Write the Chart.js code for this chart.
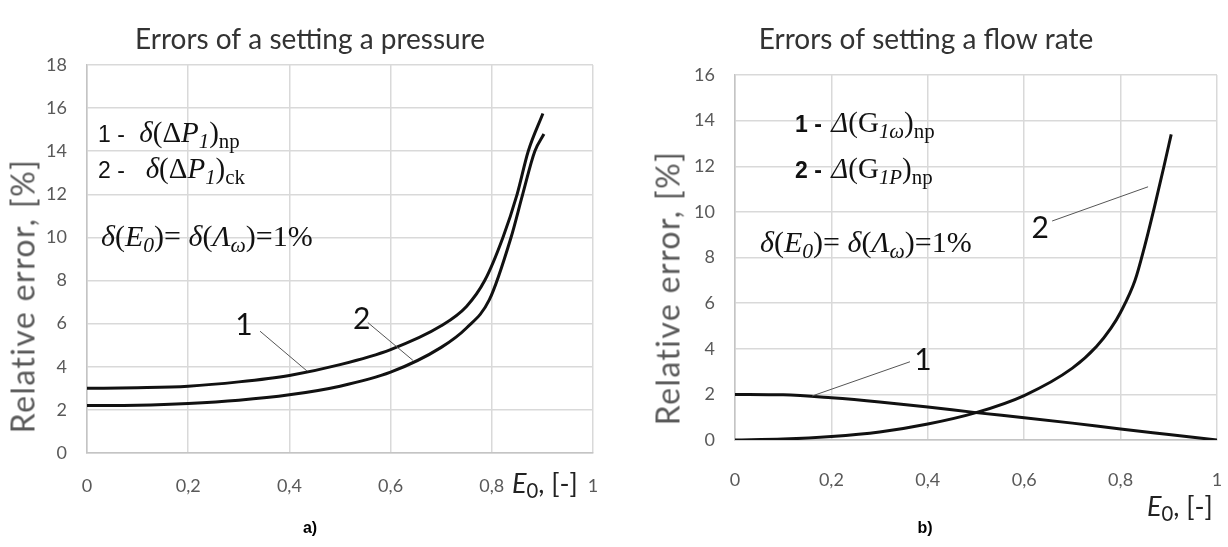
<!DOCTYPE html>
<html>
<head>
<meta charset="utf-8">
<script src="https://cdn.jsdelivr.net/npm/chart.js@4.4.1/dist/chart.umd.min.js"></script>
<style>
  body { margin: 0; width: 1228px; height: 547px; background: #fff; position: relative; overflow: hidden; font-family: Lato, sans-serif; }
  .box { position: absolute; top: 0; width: 614px; height: 547px; }
  .note { position: absolute; font-family: "Liberation Serif", serif; font-size: 29px; line-height: 29px; color: #111; white-space: nowrap; }
  .note.big { font-size: 30px; line-height: 30px; }
  .note sub { font-size: 0.72em; vertical-align: -0.28em; line-height: 0; }
  .num { font-family: "Liberation Sans", sans-serif; font-size: 23px; line-height: 0; padding-right: 8px; }
  .ytitle { position: absolute; transform: translate(-50%, -50%) rotate(-90deg); font-size: 32px; letter-spacing: 1.4px; color: #595959; white-space: nowrap; }
  .xlab { position: absolute; font-size: 27px; line-height: 27px; color: #222; white-space: nowrap; }
  .xlab sub { font-size: 0.75em; vertical-align: -0.25em; line-height: 0; }
  .cap { position: absolute; font: bold 16px "Liberation Sans", sans-serif; transform: translateX(-50%); }
</style>
</head>
<body>
<div class="box" style="left:0"><canvas id="pressure"></canvas></div>
<div class="box" style="left:614px"><canvas id="flow"></canvas></div>

<div class="ytitle" style="left:22px;top:296px">Relative error, [%]</div>
<div class="ytitle" style="left:667px;top:288px">Relative error, [%]</div>

<div class="note" style="left:98px;top:118px"><span class="num">1 - </span><i>δ</i>(Δ<i>P<sub>1</sub></i>)<sub>np</sub></div>
<div class="note" style="left:98px;top:154px"><span class="num">2 -&nbsp; </span><i>δ</i>(Δ<i>P<sub>1</sub></i>)<sub>ck</sub></div>
<div class="note big" style="left:101px;top:221px"><i>δ</i>(<i>E<sub>0</sub></i>)= <i>δ</i>(<i>Λ<sub>ω</sub></i>)=1%</div>

<div class="note" style="left:795px;top:108px"><span class="num" style="padding-right:3px"><b>1 - </b></span><i>Δ</i>(G<sub><i>1ω</i></sub>)<sub>np</sub></div>
<div class="note" style="left:795px;top:154px"><span class="num" style="padding-right:3px"><b>2 - </b></span><i>Δ</i>(G<sub><i>1P</i></sub>)<sub>np</sub></div>
<div class="note big" style="left:760px;top:227px"><i>δ</i>(<i>E<sub>0</sub></i>)= <i>δ</i>(<i>Λ<sub>ω</sub></i>)=1%</div>

<div class="xlab" style="left:512px;top:469px"><i>E</i><sub>0</sub>, [-]</div>
<div class="xlab" style="left:1147px;top:492px"><i>E</i><sub>0</sub>, [-]</div>

<div class="cap" style="left:310px;top:519px">a)</div>
<div class="cap" style="left:925px;top:519px">b)</div>

<script>
// a) errors of setting a pressure
const pressE1 = [0, 0.1, 0.2, 0.3, 0.4, 0.5, 0.6, 0.7, 0.75, 0.786, 0.822, 0.85, 0.872, 0.901];
const pressErr1 = [3.0, 3.03, 3.1, 3.3, 3.6, 4.1, 4.8, 5.9, 6.8, 8.0, 10.0, 12.0, 14.0, 15.75];
const pressE2 = [0, 0.1, 0.2, 0.3, 0.4, 0.5, 0.6, 0.7, 0.75, 0.795, 0.838, 0.861, 0.885, 0.903];
const pressErr2 = [2.2, 2.22, 2.3, 2.45, 2.7, 3.1, 3.75, 4.9, 5.8, 7.1, 10.0, 12.0, 14.0, 14.8];

// b) errors of setting a flow rate
const flowE1 = [0, 0.1, 0.2, 0.3, 0.4, 0.5, 0.6, 0.7, 0.8, 0.9, 1.0];
const flowErr1 = [2.0, 1.98, 1.85, 1.67, 1.45, 1.2, 0.98, 0.74, 0.48, 0.24, 0.0];
const flowE2 = [0, 0.1, 0.2, 0.3, 0.4, 0.5, 0.6, 0.7, 0.75, 0.78, 0.8, 0.83, 0.85, 0.87, 0.89, 0.905];
const flowErr2 = [0, 0.04, 0.15, 0.35, 0.7, 1.2, 1.95, 3.15, 4.1, 4.9, 5.6, 7.0, 8.5, 10.2, 12.0, 13.4];

// curve labels with leader lines, in data units
const pressLabels = [
  { text: '1', at: [0.31, 5.9], from: [0.342, 5.65], to: [0.435, 3.8] },
  { text: '2', at: [0.543, 6.2], from: [0.555, 6.05], to: [0.644, 4.3] }
];
const flowLabels = [
  { text: '1', at: [0.39, 3.5], from: [0.363, 3.43], to: [0.16, 1.93] },
  { text: '2', at: [0.633, 9.3], from: [0.658, 9.6], to: [0.857, 11.1] }
];

const pts = (xs, ys) => xs.map((x, i) => ({ x: x, y: ys[i] }));

const leaders = {
  id: 'leaders',
  afterDatasetsDraw(chart, args, opts) {
    const { ctx, scales: { x, y } } = chart;
    ctx.save();
    opts.items.forEach(it => {
      ctx.strokeStyle = '#555';
      ctx.lineWidth = 1;
      ctx.beginPath();
      ctx.moveTo(x.getPixelForValue(it.from[0]), y.getPixelForValue(it.from[1]));
      ctx.lineTo(x.getPixelForValue(it.to[0]), y.getPixelForValue(it.to[1]));
      ctx.stroke();
      ctx.fillStyle = '#111';
      ctx.font = '30px Lato';
      ctx.textAlign = 'center';
      ctx.textBaseline = 'middle';
      ctx.fillText(it.text, x.getPixelForValue(it.at[0]), y.getPixelForValue(it.at[1]));
    });
    ctx.restore();
  }
};

function tickLabel(v) {
  if (v === 0) return '0';
  if (v === 1) return '1';
  return v.toFixed(1).replace('.', ',');
}

function makeChart(id, cfg) {
  const line = (data) => ({
    data: data, borderColor: '#111', borderWidth: 3, pointRadius: 0,
    cubicInterpolationMode: 'monotone', fill: false
  });
  return new Chart(document.getElementById(id), {
    type: 'line',
    data: { datasets: [line(cfg.s1), line(cfg.s2)] },
    options: {
      responsive: true,
      maintainAspectRatio: false,
      animation: false,
      layout: { padding: { left: cfg.padLeft, right: cfg.padRight, top: 0, bottom: 0 } },
      plugins: {
        legend: { display: false },
        tooltip: { enabled: false },
        title: {
          display: true, text: cfg.title, color: '#333',
          font: { family: 'Lato', size: 28, weight: 'normal', lineHeight: 1.2 },
          padding: { top: 23, bottom: cfg.titleGap }
        },
        leaders: { items: cfg.labels }
      },
      scales: {
        x: {
          type: 'linear', min: 0, max: 1,
          ticks: { stepSize: 0.2, padding: cfg.xPad, color: '#595959', font: { family: 'Lato', size: 18 }, callback: tickLabel, maxRotation: 0 },
          grid: { color: '#d9d9d9', lineWidth: 1.5, drawTicks: false },
          border: { color: '#c4c4c4', width: 1.5 },
          afterFit: s => { s.height = cfg.xHeight; s.paddingLeft = 0; s.paddingRight = 0; }
        },
        y: {
          min: 0, max: cfg.yMax,
          ticks: { stepSize: 2, padding: 20, color: '#595959', font: { family: 'Lato', size: 18 } },
          grid: { color: '#d9d9d9', lineWidth: 1.5, drawTicks: false },
          border: { color: '#c4c4c4', width: 1.5 },
          afterFit: s => { s.width = cfg.yWidth; s.paddingTop = 0; s.paddingBottom = 0; }
        }
      }
    },
    plugins: [leaders]
  });
}

makeChart('pressure', {
  title: 'Errors of a setting a pressure',
  s1: pts(pressE1, pressErr1), s2: pts(pressE2, pressErr2),
  labels: pressLabels, yMax: 18,
  padLeft: 27, yWidth: 60, xHeight: 94, padRight: 21, titleGap: 8.4, xPad: 22
});

makeChart('flow', {
  title: 'Errors of setting a flow rate',
  s1: pts(flowE1, flowErr1), s2: pts(flowE2, flowErr2),
  labels: flowLabels, yMax: 16,
  padLeft: 21, yWidth: 100, xHeight: 107, padRight: 11, titleGap: 18.4, xPad: 29
});
</script>
</body>
</html>
